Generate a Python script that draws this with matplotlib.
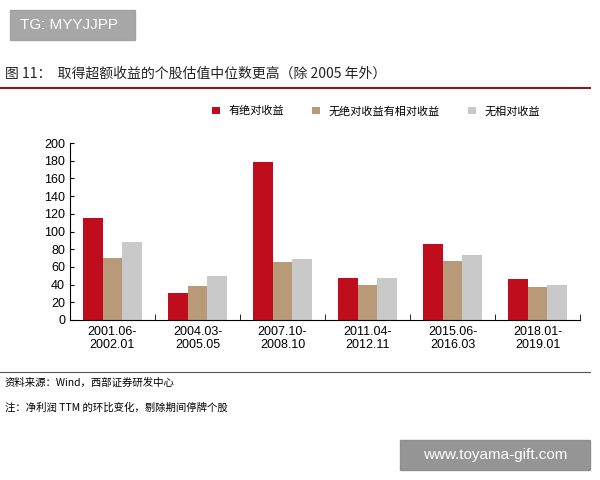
import matplotlib.pyplot as plt
import numpy as np
from matplotlib.patches import Rectangle

plt.rcParams['font.family'] = ['Noto Sans CJK SC', 'DejaVu Sans']

periods = ["2001.06-\n2002.01", "2004.03-\n2005.05", "2007.10-\n2008.10",
           "2011.04-\n2012.11", "2015.06-\n2016.03", "2018.01-\n2019.01"]
abs_ret = [115, 31, 179, 48, 86, 46]
rel_only = [70, 38, 66, 39, 67, 37]
no_rel = [88, 50, 69, 48, 74, 39]
labels = ["有绝对收益", "无绝对收益有相对收益", "无相对收益"]
colors = ["#C00D1E", "#B89A78", "#C9C9C9"]

fig = plt.figure(figsize=(6, 4.8), dpi=100)
W, H = 600, 480
ax = fig.add_axes([70/W, 1-320/H, 510/W, 177/H])

x = np.arange(len(periods))
w = 0.235
for i, (vals, c, lab) in enumerate(zip([abs_ret, rel_only, no_rel], colors, labels)):
    ax.bar(x + (i-1)*w, vals, w, color=c, label=lab)

ax.set_ylim(0, 200)
ax.set_yticks(range(0, 201, 20))
ax.set_xlim(-0.5, len(periods)-0.5)
ax.set_xticks(x)
ax.set_xticklabels(periods, fontsize=9, family='Liberation Sans')
ax.set_xticks(np.arange(-0.5, len(periods)), minor=True)
ax.tick_params(axis='x', which='major', length=0, pad=4)
ax.tick_params(axis='x', which='minor', length=4, direction='in')
ax.tick_params(axis='y', labelsize=9, length=3, direction='in')
for t in ax.get_yticklabels():
    t.set_family('Liberation Sans')
for s in ['top', 'right']:
    ax.spines[s].set_visible(False)
ax.legend(loc='center', bbox_to_anchor=(0.6, 1.18), ncol=3, frameon=False,
          fontsize=8, handlelength=0.7, handleheight=0.7, columnspacing=2.5)

# header / footer decorations
fig.add_artist(Rectangle((10/W, 1-40/H), 125/W, 30/H, transform=fig.transFigure,
                         color="#9E9E9E", alpha=0.9))
fig.text(20/W, 1-25/H, "TG: MYYJJPP", color="white", fontsize=11, va='center',
         family='Liberation Sans')
fig.text(5/W, 1-74/H, "图 11：  取得超额收益的个股估值中位数更高（除 2005 年外）",
         fontsize=10, va='center', color="#222222")
fig.add_artist(plt.Line2D([0, 590/W], [1-88/H, 1-88/H], color="#8B1A1A", lw=1.5,
                          transform=fig.transFigure))
fig.add_artist(plt.Line2D([0, 590/W], [1-372/H, 1-372/H], color="#555555", lw=0.8,
                          transform=fig.transFigure))
fig.text(5/W, 1-383/H, "资料来源：Wind，西部证券研发中心", fontsize=7.5, va='center')
fig.text(5/W, 1-408/H, "注：净利润 TTM 的环比变化，剔除期间停牌个股", fontsize=7.5, va='center')
fig.add_artist(Rectangle((400/W, 1-470/H), 190/W, 30/H, transform=fig.transFigure,
                         color="#8A8A8A", alpha=0.9))
fig.text(495/W, 1-455/H, "www.toyama-gift.com", color="white", fontsize=11,
         ha='center', va='center', family='Liberation Sans')

fig.savefig("out.png", dpi=100)
